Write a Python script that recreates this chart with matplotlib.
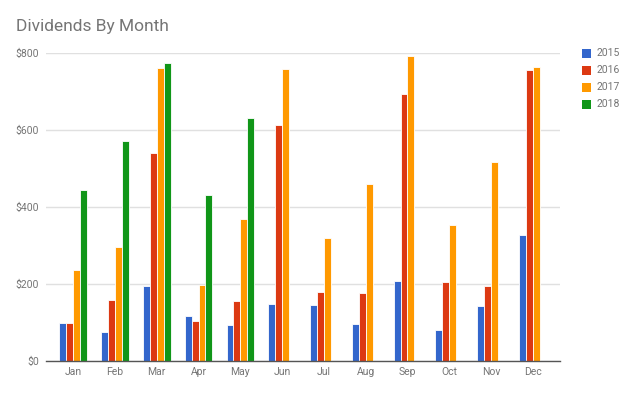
import matplotlib
matplotlib.use("Agg")
import matplotlib.pyplot as plt
import numpy as np
from matplotlib.patches import Rectangle

months = ["Jan", "Feb", "Mar", "Apr", "May", "Jun", "Jul", "Aug", "Sep", "Oct", "Nov", "Dec"]
years = ["2015", "2016", "2017", "2018"]
v2015 = [99, 76, 196, 117, 94, 149, 145, 97, 209, 80, 144, 328]
v2016 = [100, 159, 540, 104, 157, 614, 179, 176, 693, 206, 194, 755]
v2017 = [236, 297, 762, 197, 370, 758, 319, 460, 791, 352, 517, 764]
v2018 = [443, 571, 775, 432, 632, np.nan, np.nan, np.nan, np.nan, np.nan, np.nan, np.nan]
colors = ["#3366CC", "#DC3912", "#FF9900", "#109618"]
yticks = [0, 200, 400, 600, 800]

plt.rcParams['font.family'] = ['Roboto', 'DejaVu Sans']

fig = plt.figure(figsize=(6.4, 3.95), dpi=100)
ax = fig.add_axes([46/640, 1-361/395, (560-46)/640, (361-53)/395])

x = np.arange(len(months))
bw = 0.165
series = [v2015, v2016, v2017, v2018]
for i, (vals, c) in enumerate(zip(series, colors)):
    ax.bar(x + (i - 1.5) * bw, vals, width=bw, color=c, edgecolor="white", linewidth=0.6, zorder=3)

ax.set_xlim(-0.65, 11.65)
ax.set_ylim(0, 800)
ax.set_yticks(yticks)
ax.set_yticklabels(["$" + str(v) for v in yticks])
ax.set_xticks(x)
ax.set_xticklabels(months)
ax.tick_params(axis="both", length=0, labelsize=7.5, colors="#757575")
ax.tick_params(axis="y", pad=5)
ax.tick_params(axis="x", pad=4)
ax.grid(axis="y", color="#e0e0e0", linewidth=1, zorder=0)
for s in ["top", "right", "left"]:
    ax.spines[s].set_visible(False)
ax.spines["bottom"].set_color("#555555")
ax.spines["bottom"].set_linewidth(1)
ax.spines["bottom"].set_zorder(4)

fig.text(16/640, 1-27/395, "Dividends By Month", fontsize=12.5, color="#757575", va="center", ha="left")

for i, (yr, c) in enumerate(zip(years, colors)):
    yc = 53 + 17 * i
    fig.patches.append(Rectangle((582/640, 1-(yc+4.5)/395), 9/640, 9/395, transform=fig.transFigure,
                                 facecolor=c, edgecolor="none"))
    fig.text(597/640, 1-yc/395, yr, fontsize=7.5, color="#757575", va="center", ha="left")

fig.savefig("out.png", dpi=100)
